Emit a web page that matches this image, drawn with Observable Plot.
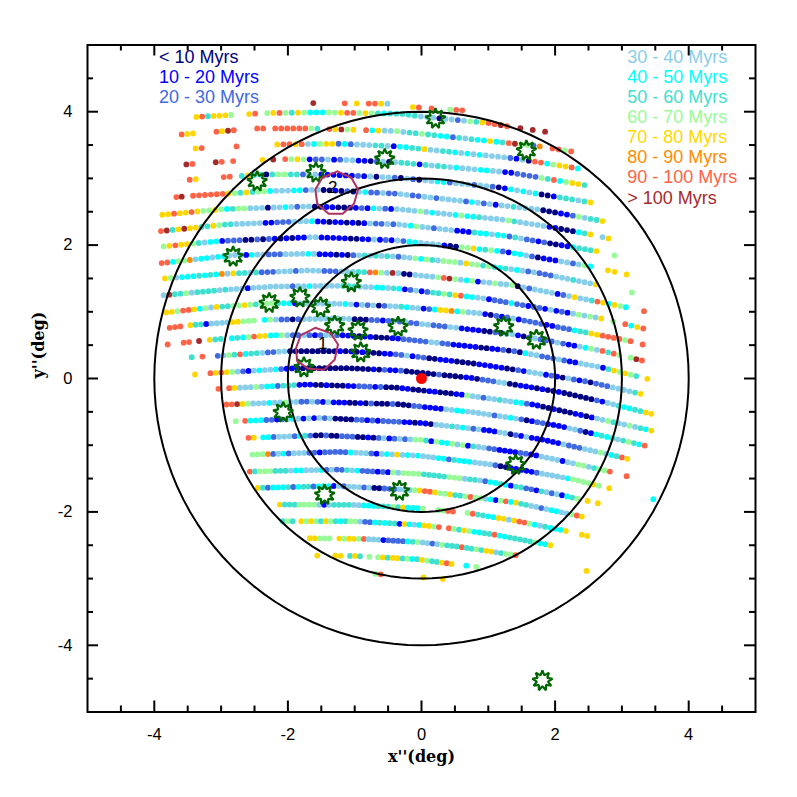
<!DOCTYPE html>
<html>
<head>
<meta charset="utf-8">
<script src="https://cdn.jsdelivr.net/npm/d3@7"></script>
<script src="https://cdn.jsdelivr.net/npm/@observablehq/plot@0.6"></script>
<style>html,body{margin:0;padding:0;background:#fff}svg{display:block}</style>
</head>
<body>
<div id="chart"></div>
<script>
const ageLabels = ["< 10 Myrs","10 - 20 Myrs","20 - 30 Myrs","30 - 40 Myrs","40 - 50 Myrs","50 - 60 Myrs","60 - 70 Myrs","70 - 80 Myrs","80 - 90 Myrs","90 - 100 Myrs","> 100 Myrs"];
const ageColors = ["#000080","#0000ff","#4169e1","#87ceeb","#00ffff","#40e0d0","#98fb98","#ffd700","#ff8c00","#ff6347","#a52a2a"];
const legendLeftX = -3.93, legendRightX = 3.08;
const legendLeftY = [4.81,4.51,4.21];
const legendRightY = [4.81,4.51,4.21,3.91,3.61,3.31,3.01,2.71];
const circleRadii = [2,3,4];
const majorTicks = [-4,-2,0,2,4];
const minorTicks = [-4.5,-3.5,-3,-2.5,-1.5,-1,-0.5,0.5,1,1.5,2.5,3,3.5,4.5];
const clusterX = [0.21,1.57,-0.55,-1.58,-2.46,-2.82,-2.28,-1.82,-1.51,-1.05,-1.30,-0.95,-0.35,1.23,1.72,-0.91,-1.76,-2.07,1.41,-0.33,-1.45,1.81];
const clusterY = [3.90,3.42,3.295,3.09,2.96,1.83,1.135,1.22,1.07,1.445,0.795,0.72,0.78,0.78,0.585,0.395,0.17,-0.505,-1.29,-1.68,-1.74,-4.53];
const regionOneX = [-1.59,-1.36,-1.25,-1.30,-1.46,-1.69,-1.86,-1.88,-1.81,-1.59];
const regionOneY = [0.76,0.68,0.51,0.28,0.13,0.145,0.26,0.45,0.645,0.76];
const regionTwoX = [-1.26,-1.05,-0.95,-1.01,-1.18,-1.39,-1.56,-1.59,-1.485,-1.26];
const regionTwoY = [3.105,3.01,2.835,2.62,2.47,2.47,2.62,2.835,3.01,3.105];
const regionLabels = [{x:-1.48,y:0.52,t:"1"},{x:-1.33,y:2.87,t:"2"}];
const looseDots = [[2.47,-2.885,"7"],[3.47,-1.81,"4"]];
// Scan tracks: [knots x,y along the track], [[first x, last x, age codes]]
// Age code: 0..9 and a index ageLabels; "." is an empty scan position.
const tracks = [
[[-1.62,4.13,-0.51,4.12,-0.13,4.07,0.61,4.02],[[-1.62,-1.62,"a"],[-1.15,-1.15,"9"],[-0.97,-0.97,"7"],[-0.79,-0.51,"9973"],[-0.13,-0.04,"79"],[0.15,0.15,"9"],[0.43,0.61,"699"]]],
[[-3.41,3.92,-2.30,3.98,-1.51,3.99,-0.31,3.97,-0.03,3.93,1.00,3.83,1.29,3.78,1.85,3.70],[[-3.37,-2.85,"7957776"],[-2.58,-2.49,"79"],[-2.31,1.28,"6796576444667996765455"+"5553330332365799a9"],[1.48,1.85,"a.a.a"]]],
[[-3.59,3.66,-2.45,3.75,-1.71,3.75,-0.39,3.71,1.77,3.48,2.24,3.405],[[-3.59,-3.42,"977"],[-3.07,-2.81,"97a9"],[-2.46,-2.37,"99"],[-2.19,-1.02,"99999965.97a67"],[-0.83,1.77,"94733"+"6355655442535447459a6628"],[1.96,2.24,"9969"]]],
[[-3.38,3.45,-2.16,3.51,-1.21,3.52,-0.36,3.48,1.39,3.30,2.34,3.15],[[-3.38,-3.29,"79"],[-2.77,-2.77,"9"],[-2.16,2.34,"799793467724233355314"+"45573355434343333213099467794"]]],
[[-3.52,3.21,-2.83,3.26,-2.04,3.29,-1.21,3.28,-0.35,3.24,1.31,3.09,2.44,2.90],[[-3.52,-3.43,"a9"],[-3.08,-2.99,"a9"],[-2.82,-2.82,"9"],[-2.38,-2.38,"7"],[-2.22,-2.22,"a"],[-2.04,2.44,"96761223123311023035"+"551535534333443311222265946775"]]],
[[-3.47,2.98,-2.96,3.02,-2.35,3.06,-1.47,3.06,-0.35,3.01,1.13,2.87,2.53,2.64],[[-3.47,-3.38,"97"],[-2.96,-2.87,"99"],[-2.69,2.53,"5755056655233111111213033"+"203203344233323320143434001555357"]]],
[[-3.67,2.72,-3.42,2.74,-2.31,2.81,-1.54,2.83,-0.36,2.77,1.78,2.53,2.71,2.36],[[-3.67,-3.59,"9a"],[-3.42,2.71,"999999765756643334423300102034223223"+"3223323333243231335333300011263557"]]],
[[-3.88,2.455,-2.96,2.54,-1.71,2.58,-0.36,2.54,1.24,2.38,1.88,2.28,2.53,2.16,2.80,2.10],[[-3.88,2.53,"779779766764566333033432330011000121432133"+"33634333464453333653333311000457"],[2.71,2.80,"37"]]],
[[-3.90,2.21,-2.92,2.31,-1.71,2.36,-0.34,2.31,1.25,2.14,2.62,1.91,2.89,1.845],[[-3.90,2.62,"9a57a77557"+"65533333"+"11222333"+"4110110101"+"3223233"+"463323331115443442"+"532212001145557"],[2.89,2.89,"6"]]],
[[-3.86,1.98,-3.04,2.06,-1.61,2.12,-0.37,2.07,1.26,1.90,1.71,1.82,2.53,1.68,3.07,1.56],[[-3.86,2.53,"6797765344"+"1222002021"+"0101133111"+"1100113121"+"32"+"4433331006674564"+"2144320111332364"],[2.79,2.89,"77"],[3.07,3.07,"7"]]],
[[-3.89,1.73,-2.81,1.85,-1.71,1.87,-0.39,1.83,0.56,1.74,1.71,1.59,2.61,1.41,3.15,1.29],[[-3.89,2.61,"9946683443"+"4433314332"+"2233334311"+"1010235353"+"532"+"3364653666"+"3766565453"+"4323222333"+"53337"],[3.15,3.15,"6"]]],
[[-3.84,1.50,-2.96,1.57,-1.71,1.62,-0.36,1.58,1.36,1.40,3.06,1.07,3.33,1.01],[[-3.84,3.06,"7634445454"+"8375535222"+"3332333322"+"2333559863"+"a30"+"0333369a63"+"4613363360"+"3233331237"+"335974764"],[3.33,3.33,"9"]]],
[[-3.86,1.25,-2.96,1.33,-2.21,1.38,-1.21,1.39,-0.36,1.35,0.94,1.20,2.69,0.90,3.32,0.75],[[-3.86,2.69,"3a55635555"+"3533313333"+"3332334333"+"3355533344"+"3541"+"2312556579"+"4433122242"+"2122131213"+"63637"],[2.87,2.87,"6"],[3.05,3.32,"9479"]]],
[[-3.82,0.99,-3.11,1.07,-2.21,1.13,-1.21,1.12,-0.36,1.08,0.86,0.98,1.38,0.90,3.13,0.56,3.31,0.51],[[-3.82,3.13,"7769974637"+"5566765666"+"5441333333"+"3343132302"+"3354"+"3312477846"+"3331021231"+"2222112224"+"5577999969"],[3.31,3.31,"9"]]],
[[-3.77,0.76,-3.46,0.80,-2.35,0.88,-1.21,0.90,-0.39,0.86,0.53,0.76,1.38,0.66,2.68,0.42,3.30,0.27],[[-3.77,-3.61,"999"],[-3.46,-2.51,"7551333377666"],[-2.35,3.30,"4632202333"+"3333330002"+"21232"+"3223322233"+"1111002033"+"1023222321"+"134639596."+"6a9"]]],
[[-3.80,0.51,-3.17,0.58,-2.21,0.65,-1.21,0.65,-0.36,0.60,1.39,0.41,2.68,0.17,3.20,0.04,3.38,-0.005],[[-3.80,-3.80,"9"],[-3.56,-3.48,"99"],[-3.33,-3.33,"a"],[-3.17,3.38,"755.454697"+"7446322321"+"2332111011"+"000112"+"2222332211"+"1110011202"+"0433222321"+"1333315767"+"65.7"]]],
[[-3.44,0.32,-3.05,0.34,-2.01,0.41,-1.11,0.41,-0.35,0.36,0.82,0.22,1.48,0.12,2.50,-0.05,3.28,-0.23],[[-3.44,-3.44,"5"],[-3.28,-3.28,"9"],[-3.05,3.28,"2365945532"+"2330000000"+"0010101000"+"1122"+"3122001110"+"0001111100"+"2133312103"+"2120222333"+"357"]]],
[[-3.39,0.06,-3.16,0.08,-1.86,0.155,-1.11,0.155,-0.34,0.12,0.74,0.01,1.48,-0.105,2.08,-0.205,2.68,-0.34,3.44,-0.53],[[-3.39,-3.39,"7"],[-3.16,3.44,"9797632134"+"3342111000"+"0000000000"+"1021120"+"0000020000"+"1102223300"+"1110100100"+"0000213354"+"45577"]]],
[[-3.04,-0.155,-2.88,-0.145,-1.71,-0.09,-0.39,-0.135,0.59,-0.24,1.67,-0.39,2.15,-0.495,3.44,-0.78],[[-3.04,-3.04,"9"],[-2.88,3.44,"9733363442"+"5551110010"+"0011222120"+"001"+"1000110001"+"1633233533"+"4421100100"+"0110133653"+"363547"]]],
[[-2.92,-0.39,-1.71,-0.345,-0.35,-0.385,0.77,-0.505,1.51,-0.615,2.08,-0.715,3.34,-1.005],[[-2.92,3.34,"99a7633343"+"3633223213"+"1110010200"+"0200"+"0221111334"+"4333332334"+"3201221111"+"3320145453"+"56549"]]],
[[-2.78,-0.64,-1.51,-0.59,-0.03,-0.665,1.02,-0.78,1.83,-0.92,2.99,-1.18,3.08,-1.205],[[-2.78,-2.78,"6"],[-2.64,3.08,"9444221234"+"3131323000"+"0221212222"+"11"+"0110333534"+"3231113302"+"1311111132"+"2233363459"+"7"]]],
[[-2.59,-0.89,-1.51,-0.85,-0.01,-0.92,0.96,-1.04,1.68,-1.145,2.08,-1.23,2.82,-1.395,3.07,-1.465],[[-2.59,-2.51,"97"],[-2.37,2.82,"4423332452"+"0020022200"+"102312323"+"6651644636"+"1533221111"+"2211333313"+"36635669"],[3.07,3.07,"9"]]],
[[-2.53,-1.14,-1.26,-1.10,-0.05,-1.155,1.05,-1.29,1.60,-1.39,2.24,-1.505,2.81,-1.645],[[-2.53,2.81,"6668234233"+"3221222224"+"3332134373"+"43"+"4333442544"+"4333320011"+"1112333334"+"666676.7"]]],
[[-2.57,-1.395,-1.26,-1.365,-0.03,-1.43,0.90,-1.53,1.53,-1.64,2.08,-1.745,2.64,-1.87],[[-2.57,2.64,"9566655534"+"4333423225"+"3422212163"+"666"+"6555556663"+"5532445415"+"5221532314"+"56.7.7"]]],
[[-2.45,-1.64,-1.26,-1.61,-0.01,-1.68,0.68,-1.77,1.38,-1.855,2.40,-2.07],[[-2.45,2.40,"7524445245"+"5245413233"+"3230022233"+"3679"+"9766755696"+"6341694755"+"3323443369"+"7"]]],
[[-2.12,-1.89,-1.01,-1.895,-0.06,-1.945,0.69,-2.015,1.39,-2.13,2.16,-2.285,2.48,-2.36],[[-2.12,0.02,"7555666631"+"3555533444"+"55565744"+"46"],[0.25,0.47,"6699"],[0.69,2.16,"6955447737"+"9964354447"],[2.40,2.48,"77"]]],
[[-2.08,-2.14,-1.01,-2.14,-0.03,-2.195,0.41,-2.245,1.09,-2.34,1.93,-2.50],[[-2.08,-1.93,"565"],[-1.80,0.26,"7676576545"+"6632245455"+"17434"+"7769"],[0.41,1.93,"9657644559"+"4455555644"+"7"]]],
[[-1.67,-2.395,-0.86,-2.405,-0.01,-2.455,0.58,-2.525,1.41,-2.65],[[-1.67,1.41,"77666.7677"+"6933312222"+"456"+"33236555955657735669"]]],
[[-1.56,-2.655,-1.01,-2.66,-0.06,-2.71,0.45,-2.78,0.82,-2.825],[[-1.56,-1.56,"7"],[-1.29,-1.21,"77"],[-1.07,-0.92,"575"],[-0.78,-0.78,"6"],[-0.65,0.45,"6757756457655797"],[0.67,0.67,"4"],[0.82,0.82,"6"]]],
[[-0.69,-2.93,0.32,-3.005],[[-0.69,-0.61,"69"],[0.03,0.03,"7"],[0.32,0.32,"7"]]]
];

const ageOf = c => ageLabels[parseInt(c, 11)];
const fields = [];
for (const [knots, runs] of tracks) {
  const kx = knots.filter((_, i) => i % 2 === 0), ky = knots.filter((_, i) => i % 2 === 1);
  const along = d3.scaleLinear().domain(kx).range(ky);
  for (const [x0, x1, codes] of runs) {
    [...codes].forEach((c, i) => {
      if (c === ".") return;
      const x = codes.length > 1 ? x0 + (x1 - x0) * i / (codes.length - 1) : x0;
      fields.push({x, y: along(x), age: ageOf(c)});
    });
  }
}
for (const [x, y, c] of looseDots) fields.push({x, y, age: ageOf(c)});

const circles = circleRadii.flatMap(r => d3.range(0, 361, 3).map(a => ({r, x: r * Math.cos(a * Math.PI / 180), y: r * Math.sin(a * Math.PI / 180)})));
const clusters = clusterX.map((x, i) => ({x, y: clusterY[i]}));
const polygon = (xs, ys) => xs.map((x, i) => ({x, y: ys[i]}));
const starSymbol = {draw(ctx) {
  const n = 9, R = 10.2, q = 5.6;
  for (let i = 0; i < 2 * n; i++) {
    const a = Math.PI * i / n - Math.PI / 2, d = i % 2 ? q : R;
    if (i) ctx.lineTo(d * Math.cos(a), d * Math.sin(a)); else ctx.moveTo(d * Math.cos(a), d * Math.sin(a));
  }
  ctx.closePath();
}};
const tickLen = 0.165, minorLen = 0.09, tickColor = "#000";
const legend = [
  ...legendLeftY.map((y, i) => ({x: legendLeftX, y, age: ageLabels[i]})),
  ...legendRightY.map((y, i) => ({x: legendRightX, y, age: ageLabels[i + 3]}))
];

const chart = Plot.plot({
  width: 797, height: 797,
  marginLeft: 87, marginRight: 42, marginTop: 44.5, marginBottom: 85.5,
  style: {fontFamily: "'Liberation Sans', sans-serif", background: "#fff", color: "#000"},
  x: {domain: [-5, 5], label: null},
  y: {domain: [-5, 5], label: null},
  color: {type: "ordinal", domain: ageLabels, range: ageColors},
  marks: [
    Plot.dot(fields, {x: "x", y: "y", r: 2.9, fill: "age", stroke: "none"}),
    Plot.line(circles, {x: "x", y: "y", z: "r", stroke: "#000", strokeWidth: 2, curve: "linear"}),
    Plot.dot(clusters, {x: "x", y: "y", symbol: starSymbol, r: 8, fill: "none", stroke: "#006400", strokeWidth: 2.2, strokeLinejoin: "bevel"}),
    Plot.line(polygon(regionOneX, regionOneY), {x: "x", y: "y", stroke: "#b03060", strokeWidth: 2}),
    Plot.line(polygon(regionTwoX, regionTwoY), {x: "x", y: "y", stroke: "#b03060", strokeWidth: 2}),
    Plot.text(regionLabels, {x: "x", y: "y", text: "t", fontSize: 17, fill: "#000"}),
    Plot.dot([{x: 0, y: 0}], {x: "x", y: "y", r: 5.5, fill: "#ff0000"}),
    Plot.text(legend, {x: "x", y: "y", text: "age", fill: "age", textAnchor: "start", fontSize: 18}),
    Plot.ruleX(majorTicks, {y1: -5, y2: -5 + tickLen, stroke: tickColor, strokeWidth: 2}),
    Plot.ruleX(majorTicks, {y1: 5, y2: 5 - tickLen, stroke: tickColor, strokeWidth: 2}),
    Plot.ruleX(minorTicks, {y1: -5, y2: -5 + minorLen, stroke: tickColor, strokeWidth: 2}),
    Plot.ruleX(minorTicks, {y1: 5, y2: 5 - minorLen, stroke: tickColor, strokeWidth: 2}),
    Plot.ruleY(majorTicks, {x1: -5, x2: -5 + tickLen, stroke: tickColor, strokeWidth: 2}),
    Plot.ruleY(majorTicks, {x1: 5, x2: 5 - tickLen, stroke: tickColor, strokeWidth: 2}),
    Plot.ruleY(minorTicks, {x1: -5, x2: -5 + minorLen, stroke: tickColor, strokeWidth: 2}),
    Plot.ruleY(minorTicks, {x1: 5, x2: 5 - minorLen, stroke: tickColor, strokeWidth: 2}),
    Plot.frame({stroke: "#000", strokeWidth: 2}),
    Plot.axisX(majorTicks, {anchor: "bottom", tickSize: 0, tickPadding: 16, fontSize: 16.5, tickFormat: d => String(d), label: null}),
    Plot.axisY(majorTicks, {anchor: "left", tickSize: 0, tickPadding: 15, fontSize: 16.5, tickFormat: d => String(d), label: null}),
    Plot.text(["x''(deg)"], {frameAnchor: "bottom", dy: 50, fontFamily: "'DejaVu Serif', serif", fontWeight: "bold", fontSize: 16, fill: "#000"}),
    Plot.text(["y''(deg)"], {frameAnchor: "left", dx: -49, rotate: -90, fontFamily: "'DejaVu Serif', serif", fontWeight: "bold", fontSize: 16, fill: "#000"})
  ]
});
document.getElementById("chart").append(chart);
</script>
</body>
</html>
